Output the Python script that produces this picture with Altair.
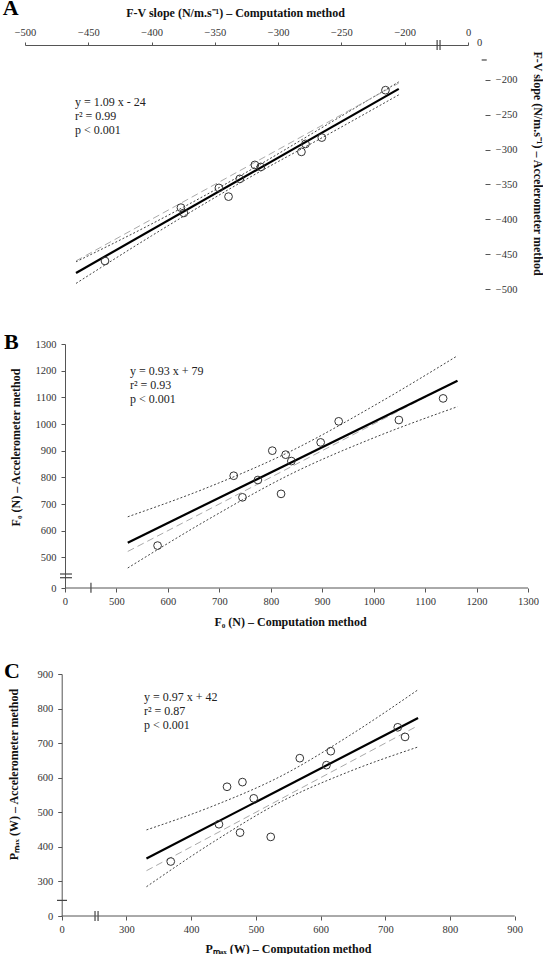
import altair as alt
import pandas as pd

FONT = "Liberation Serif"

# ---------------- Panel A : F-V slope ----------------
a_comp = [-436.8, -376.8, -374.5, -346.8, -339.2, -330.3, -318.4, -313.7, -281.6, -278.4, -265.5, -215.2]
a_acc = [-459.8, -383.3, -390.9, -355.0, -367.5, -342.0, -322.0, -324.9, -303.3, -291.9, -282.8, -214.8]
a_fit_x = [-459.7, -204.7]
a_fit_y = [-477.0, -212.9]
a_band_x = [-459.7, -400.0, -323.0, -260.0, -204.7]
a_band_hi = [-461.0, -406.7, -330.4, -262.7, -202.9]
a_band_lo = [-492.0, -423.7, -340.4, -277.7, -221.5]
a_ident = [-459.7, -204.7]
a_eq = ["y = 1.09 x - 24", "r² = 0.99", "p < 0.001"]
a_ticks_x = [-500, -450, -400, -350, -300, -250, -200, -150]
a_ticks_y = [-500, -450, -400, -350, -300, -250, -200]

# ---------------- Panel B : F0 ----------------
b_comp = [580, 728, 745, 775, 803, 820, 829, 840, 897, 932, 1049, 1135]
b_acc = [544, 806, 725, 790, 900, 738, 885, 861, 931, 1010, 1015, 1096]
b_fit_x = [522, 1163]
b_fit_y = [555, 1162]
b_band_x = [522, 680, 844, 1000, 1163]
b_band_hi = [652, 764, 903, 1068, 1256]
b_band_lo = [460, 644, 817, 948, 1065]
b_ident = [522, 1163]
b_eq = ["y = 0.93 x + 79", "r² = 0.93", "p < 0.001"]
b_ticks_x = [400, 500, 600, 700, 800, 900, 1000, 1100, 1200, 1300]
b_ticks_y = [385, 500, 600, 700, 800, 900, 1000, 1100, 1200, 1300]

# ---------------- Panel C : Pmax ----------------
c_comp = [368.5, 443.0, 455.5, 475.6, 479.3, 496.8, 523.0, 567.9, 609.1, 615.8, 719.3, 730.6]
c_acc = [357.6, 465.4, 573.8, 441.2, 587.3, 540.3, 428.8, 656.5, 636.3, 676.7, 745.8, 718.0]
c_fit_x = [331.0, 750.7]
c_fit_y = [366.3, 772.6]
c_band_x = [331.0, 435.0, 540.0, 645.0, 750.7]
c_band_hi = [449.0, 519.0, 605.7, 722.3, 854.5]
c_band_lo = [284.7, 415.0, 531.7, 618.3, 689.0]
c_ident = [331.0, 750.7]
c_eq = ["y = 0.97 x + 42", "r² = 0.87", "p < 0.001"]
c_ticks = [200, 300, 400, 500, 600, 700, 800, 900]


def band_df(xs, hi, lo):
    rows = [{"x": x, "y": y, "g": "hi"} for x, y in zip(xs, hi)]
    rows += [{"x": x, "y": y, "g": "lo"} for x, y in zip(xs, lo)]
    return pd.DataFrame(rows)


def panel(pts_x, pts_y, fit_x, fit_y, bx, bhi, blo, ident, eq, eq_x, eq_y,
          letter, letter_x, letter_y, rules, xdom, ydom, xaxis, yaxis, w, h,
          extra=None):
    X = alt.X("x:Q", scale=alt.Scale(domain=xdom, nice=False, zero=False), axis=xaxis)
    Y = alt.Y("y:Q", scale=alt.Scale(domain=ydom, nice=False, zero=False), axis=yaxis)
    band = alt.Chart(band_df(bx, bhi, blo)).mark_line(
        color="#444", strokeDash=[2, 2], strokeWidth=1, interpolate="monotone"
    ).encode(X, Y, detail="g:N")
    idl = alt.Chart(pd.DataFrame({"x": ident, "y": ident})).mark_line(
        color="#aaaaaa", strokeDash=[7, 4], strokeWidth=1
    ).encode(X, Y)
    fit = alt.Chart(pd.DataFrame({"x": fit_x, "y": fit_y})).mark_line(
        color="black", strokeWidth=2.2
    ).encode(X, Y)
    pts = alt.Chart(pd.DataFrame({"x": pts_x, "y": pts_y})).mark_point(
        shape="circle", filled=False, size=60, color="#333", strokeWidth=1, opacity=1
    ).encode(X, Y)
    eqc = alt.Chart(pd.DataFrame({"x": [eq_x] * len(eq), "y": eq_y, "t": eq})).mark_text(
        align="left", baseline="middle", font=FONT, fontSize=12, color="#222"
    ).encode(X, Y, text="t:N")
    let = alt.Chart(pd.DataFrame({"x": [letter_x], "y": [letter_y], "t": [letter]})).mark_text(
        align="left", baseline="alphabetic", font=FONT, fontSize=22, fontWeight="bold", color="black"
    ).encode(X, Y, text="t:N")
    br = alt.Chart(pd.DataFrame(rules)).mark_rule(color="#444", strokeWidth=1.2).encode(
        X, Y, x2="x2:Q", y2="y2:Q"
    )
    layers = [band, idl, fit, pts, eqc, let, br]
    if extra is not None:
        layers.extend(extra(X, Y))
    return alt.layer(*layers).properties(width=w, height=h)


def axis_common(**kw):
    base = dict(grid=False, labelFont=FONT, titleFont=FONT, labelFontSize=10.5,
                titleFontSize=12, titleFontWeight="bold", domainColor="#555",
                tickColor="#555", labelColor="#333", titleColor="#111",
                titleBaseline="middle", format="d", labelFlush=False, labelOverlap=False)
    base.update(kw)
    return alt.Axis(**base)


# ---- A ----
a_xaxis = axis_common(orient="top", values=a_ticks_x,
                      labelExpr="datum.value > -160 ? '0' : datum.label",
                      tickSize=3, labelPadding=5,
                      title="F-V slope (N/m.s⁻¹) – Computation method",
                      titleX=210, titleY=-33)
a_yaxis = axis_common(orient="right", offset=17, domain=False, values=a_ticks_y,
                      tickSize=5, labelAlign="right", labelPadding=27,
                      title="F-V slope (N/m.s⁻¹) – Accelerometer method",
                      titleAngle=90, titleX=52, titleY=118, titleAlign="center")
a_rules = {"x": [-174.4, -172.1, -139.2], "x2": [-174.4, -172.1, -135.2],
           "y": [-157.0, -157.0, -171.5], "y2": [-143.0, -143.0, -171.5]}


def a_extra(X, Y):
    return [alt.Chart(pd.DataFrame({"x": [-150], "y": [-150], "t": ["0"]})).mark_text(
        align="left", baseline="middle", dx=9, dy=-2, font=FONT, fontSize=10.5, color="#333"
    ).encode(X, Y, text="t:N")]


A = panel(a_comp, a_acc, a_fit_x, a_fit_y, a_band_x, a_band_hi, a_band_lo, a_ident,
          a_eq, -460.5, [-231.4, -251.5, -271.6], "A", -517.6, -106.9, a_rules,
          [-500, -150], [-500, -150], a_xaxis, a_yaxis, 443, 244, extra=a_extra)


def axis_line(x0, x1, y0):
    def f(X, Y):
        return [alt.Chart(pd.DataFrame({"x": [x0], "x2": [x1], "y": [y0]})).mark_rule(
            color="#555", strokeWidth=1
        ).encode(X, Y, x2="x2:Q")]
    return f


# ---- B ---- (x scale extended on the left so that all panels share the same left edge)
b_xaxis = axis_common(orient="bottom", values=b_ticks_x, domain=False,
                      labelExpr="datum.value < 450 ? '0' : datum.label",
                      tickSize=4, labelPadding=4,
                      title="F₀ (N) – Computation method", titleX=265, titleY=33)
b_yaxis = axis_common(orient="left", offset=-40, values=b_ticks_y,
                      labelExpr="datum.value < 450 ? '0' : datum.label",
                      tickSize=4, labelPadding=5,
                      title="F₀ (N) – Accelerometer method", titleX=-50, titleY=103)
b_rules = {"x": [450.5, 390.3, 390.3], "x2": [450.5, 413.6, 413.6],
           "y": [405.0, 437.5, 423.6], "y2": [367.4, 437.5, 423.6]}
B = panel(b_comp, b_acc, b_fit_x, b_fit_y, b_band_x, b_band_hi, b_band_lo, b_ident,
          b_eq, 526.2, [1200.0, 1147.6, 1095.0], "B", 281.6, 1281.3, b_rules,
          [322.3, 1300], [385, 1300], b_xaxis, b_yaxis, 503, 244,
          extra=axis_line(400, 1300, 385))

# ---- C ----
c_xaxis = axis_common(orient="bottom", values=c_ticks, domain=False,
                      labelExpr="datum.value < 250 ? '0' : datum.label",
                      tickSize=4, labelPadding=4,
                      title="Pₘₐₓ (W) – Computation method", titleX=263, titleY=32)
c_yaxis = axis_common(orient="left", offset=-36.7, values=c_ticks,
                      labelExpr="datum.value < 250 ? '0' : datum.label",
                      tickSize=4, labelPadding=5,
                      title="Pₘₐₓ (W) – Accelerometer method", titleX=-48, titleY=100)
c_rules = {"x": [251.5, 256.2, 192.7], "x2": [251.5, 256.2, 208.2],
           "y": [214.4, 214.4, 245.2], "y2": [185.6, 185.6, 245.2]}
C = panel(c_comp, c_acc, c_fit_x, c_fit_y, c_band_x, c_band_hi, c_band_lo, c_ident,
          c_eq, 327.2, [833.7, 793.4, 753.0], "C", 110.8, 888.5, c_rules,
          [143.3, 900], [200, 900], c_xaxis, c_yaxis, 489.7, 242,
          extra=axis_line(200, 900, 200))


def spacer(w, h):
    return alt.Chart(pd.DataFrame({"v": [0]})).mark_point(opacity=0).encode(
        x=alt.value(0), y=alt.value(0)
    ).properties(width=w, height=h)


chart = alt.vconcat(A, spacer(1, 54.3), B, spacer(1, 85.4), C,
                    spacing=0, bounds="flush").properties(
    padding={"left": 2, "top": -4, "right": 0, "bottom": 0}
).configure_view(stroke=None)

chart.save("out.html", embed_options={"renderer": "svg", "actions": False})
